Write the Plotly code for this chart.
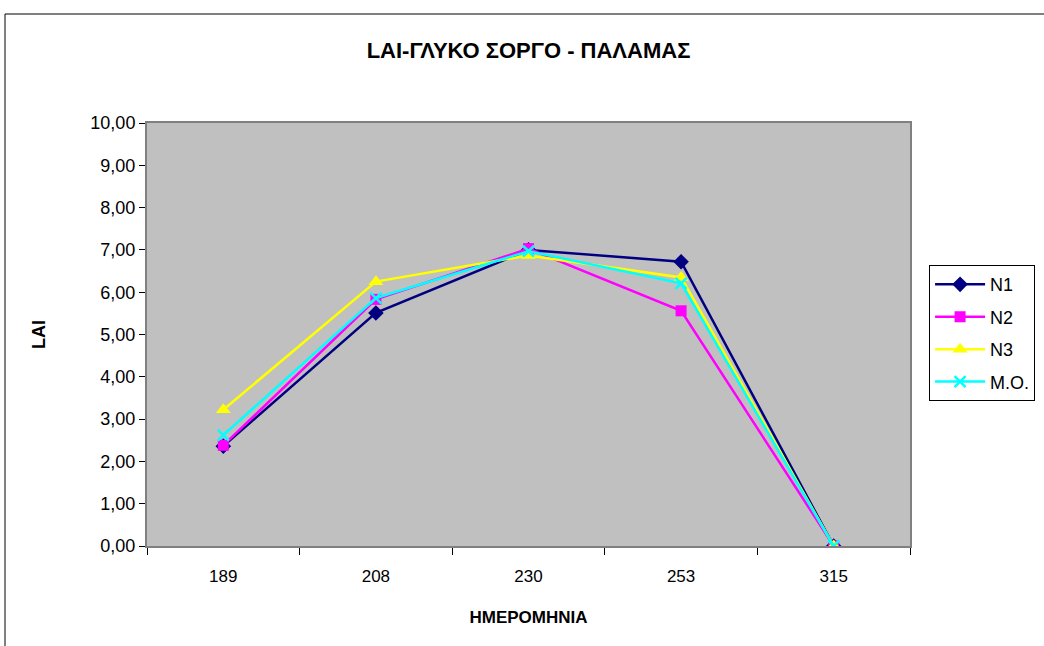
import plotly.graph_objects as go

categories = ["189", "208", "230", "253", "315"]
n1 = [2.36, 5.51, 7.00, 6.72, 0.00]
n2 = [2.38, 5.83, 7.03, 5.56, 0.00]
n3 = [3.22, 6.25, 6.87, 6.35, 0.00]
mo = [2.62, 5.86, 6.97, 6.21, 0.00]
y_ticks = [i for i in range(11)]
y_labels = [f"{i},00" for i in range(11)]

FONT = "Liberation Sans, Arial, sans-serif"

fig = go.Figure()
fig.add_trace(go.Scatter(x=categories, y=n1, name="N1", mode="lines+markers", legendgroup="a",
                         line=dict(color="#000080", width=2.5),
                         marker=dict(symbol="diamond", size=12, color="#000080")))
fig.add_trace(go.Scatter(x=categories, y=n2, name="N2", mode="lines+markers", legendgroup="b",
                         line=dict(color="#FF00FF", width=2.5),
                         marker=dict(symbol="square", size=11, color="#FF00FF")))
fig.add_trace(go.Scatter(x=categories, y=n3, name="N3", mode="lines+markers", legendgroup="c",
                         line=dict(color="#FFFF00", width=2.5),
                         marker=dict(symbol="triangle-up", size=13, color="#FFFF00")))
fig.add_trace(go.Scatter(x=categories, y=mo, name="M.O.", mode="lines+markers", legendgroup="d",
                         line=dict(color="#00FFFF", width=2.5),
                         marker=dict(symbol="x-thin", size=11, color="#00FFFF",
                                     line=dict(color="#00FFFF", width=2.5))))

fig.update_layout(
    width=1044, height=646,
    margin=dict(l=147, r=134, t=123, b=100, autoexpand=False),
    paper_bgcolor="white",
    plot_bgcolor="#C0C0C0",
    font=dict(family=FONT, size=18, color="black"),
    title=dict(text="<b>LAI-ΓΛΥΚΟ ΣΟΡΓΟ - ΠΑΛΑΜΑΣ</b>", x=0.5, xref="paper",
               y=1 - 50 / 646, yanchor="middle", font=dict(size=22)),
    xaxis=dict(type="category", range=[-0.5, len(categories) - 0.5],
               tickson="boundaries", ticks="outside", ticklen=7,
               tickcolor="black", showgrid=False, showline=True, linecolor="#808080",
               linewidth=2, mirror=True, tickfont=dict(size=17), ticklabelstandoff=14,
               title=dict(text="<b>ΗΜΕΡΟΜΗΝΙΑ</b>", font=dict(size=17), standoff=26)),
    yaxis=dict(range=[0, 10], tickvals=y_ticks, ticktext=y_labels, ticks="outside",
               ticklen=6, tickcolor="black", showgrid=False, showline=True,
               linecolor="#808080", linewidth=2, mirror=True, zeroline=False,
               tickfont=dict(size=18),
               title=dict(text="<b>LAI</b>", font=dict(size=18), standoff=40)),
    legend=dict(x=1.025, y=0.664, xanchor="left", yanchor="top",
                bordercolor="black", borderwidth=1, bgcolor="white",
                font=dict(size=18), traceorder="grouped", tracegroupgap=6,
                itemwidth=50, entrywidth=130),
    shapes=[dict(type="rect", xref="paper", yref="paper",
                 x0=(5 - 147) / 763, x1=1.3, y0=-0.4, y1=(546 - 14) / 423,
                 line=dict(color="black", width=1), layer="below")],
    showlegend=True,
)

fig.write_html("out.html", config={"displayModeBar": False},
               post_script="document.body.style.margin='0';")
